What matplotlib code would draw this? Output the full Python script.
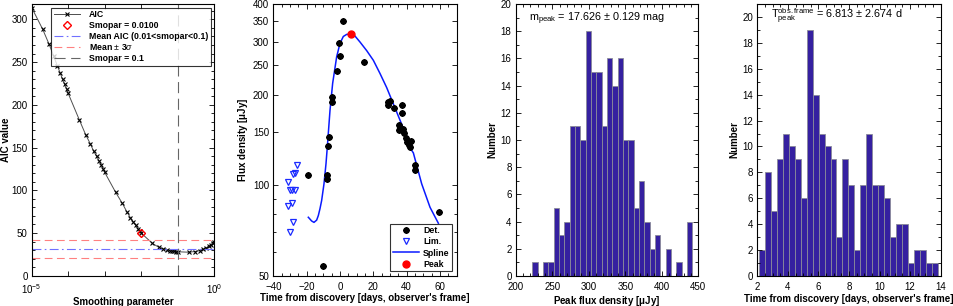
import numpy as np
import matplotlib
matplotlib.use("Agg")
import matplotlib.pyplot as plt
from matplotlib.ticker import MultipleLocator, FixedLocator, NullLocator, NullFormatter

plt.rcParams['font.family'] = ['Liberation Sans', 'DejaVu Sans']
plt.rcParams['mathtext.fontset'] = 'custom'
plt.rcParams['mathtext.rm'] = 'Liberation Sans'
plt.rcParams['mathtext.it'] = 'Liberation Sans:italic'
plt.rcParams['mathtext.bf'] = 'Liberation Sans:bold'
plt.rcParams['font.size'] = 7

# ---------------- Panel 1: AIC vs smoothing parameter ----------------
smopar = [1e-5, 2e-5, 3e-5, 4e-5, 5e-5, 6e-5, 7e-5, 8e-5, 9e-5,
          1e-4, 2e-4, 3e-4, 4e-4, 5e-4, 6e-4, 7e-4, 8e-4, 9e-4,
          1e-3, 2e-3, 3e-3, 4e-3, 5e-3, 6e-3, 7e-3, 8e-3, 9e-3,
          1e-2, 2e-2, 3e-2, 4e-2, 5e-2, 6e-2, 7e-2, 8e-2, 9e-2,
          1e-1, 0.2, 0.3, 0.4, 0.5, 0.6, 0.7, 0.8, 0.9, 1.0]
aic = [313.8, 288.4, 270.8, 257.0, 246.0, 237.5, 229.7, 223.8, 218.8,
       213.3, 182.7, 165.1, 154.6, 145.5, 139.7, 134.6, 129.9, 124.9,
       120.9, 97.4, 85.0, 75.1, 68.1, 63.4, 59.2, 55.2, 52.1,
       49.8, 38.0, 33.3, 31.3, 30.2, 29.4, 29.0, 28.6, 28.3,
       28.0, 27.5, 28.3, 29.4, 31.0, 32.5, 34.5, 36.5, 38.3, 40.0]
best_smopar = 0.01
best_aic = 49.8
mean_aic = 31.0
mean_plus = 41.9
mean_minus = 20.4
ref_smopar = 0.1

# ---------------- Panel 2: light curve ----------------
det_t = [2.0, -0.4, 0.0, -2.0, -5.0, -4.8, -6.8, -7.0, 14.2, 29.0, 30.0, 29.0,
         32.4, 37.2, 37.2, 35.4, 35.4, 38.0, 38.6, 39.4, 40.4, 41.4, 42.8, 42.0,
         -19.0, -7.6, -7.6, -10.0, 45.0, 45.0, 59.2]
det_f = [350, 296, 268, 239, 196, 189, 144, 135, 256, 189, 191, 185,
         180, 185, 174, 158, 153, 154, 149, 143, 139, 136, 140, 134,
         107.7, 107.7, 105.2, 53.7, 117, 112, 81.3]
lim_t = [-26, -28, -27, -31, -30, -29, -27, -29, -31, -28, -30]
lim_f = [117, 108.5, 110, 102.4, 96.5, 96.5, 96, 87.3, 85, 75.2, 70]
spl_t = [-19.0, -17.0, -15.6, -14.0, -13.0, -12.0, -11.0, -9.6, -8.4, -7.6, -6.0,
         -4.4, -2.0, 0.0, 2.0, 4.0, 6.8, 9.0, 12.0, 16.0, 20.0, 24.0, 28.0,
         34.0, 40.0, 42.4, 44.0, 49.0, 54.0, 59.0]
spl_f = [78.2, 76.0, 75.2, 76.5, 79.2, 83.5, 88.9, 101, 117.7, 134, 177,
         218, 267, 296, 312, 317, 317.6, 313, 299, 280, 260, 235, 211,
         175, 145, 132, 128, 101, 84.4, 74.7]
peak_t = 6.8
peak_f = 317.6

# ---------------- Panel 3: peak flux histogram ----------------
flux_edge_lo = 222.8
flux_edge_hi = 442.0
flux_counts = [1, 0, 1, 1, 5, 3, 4, 11, 11, 10, 18, 15, 15, 11, 16, 14, 16, 10,
               10, 5, 7, 4, 2, 3, 0, 2, 0, 1, 0, 4]

# ---------------- Panel 4: peak time histogram ----------------
time_edge_lo = 2.11
time_edge_hi = 13.81
time_counts = [2, 8, 5, 9, 11, 10, 9, 6, 19, 14, 11, 10, 9, 3, 9, 7, 2, 7, 11, 7,
               7, 6, 3, 4, 4, 1, 2, 2, 1, 1]

W, H = 954, 306
fig = plt.figure(figsize=(W / 100, H / 100), dpi=100)

def axes_px(x0, x1, y0, y1):
    return fig.add_axes([x0 / W, 1 - y1 / H, (x1 - x0) / W, (y1 - y0) / H])

def style(ax):
    ax.tick_params(which='both', direction='in', top=True, right=True,
                   labelsize=7, width=0.6)
    ax.tick_params(axis='x', pad=4.5)
    ax.tick_params(axis='y', pad=3)
    ax.tick_params(which='major', length=3.5)
    ax.tick_params(which='minor', length=2)
    for s in ax.spines.values():
        s.set_linewidth(0.8)

lab_kw = dict(fontsize=7, fontweight='bold')

# Panel 1
ax1 = axes_px(31.7, 214.3, 4, 275.7)
ax1.set_xscale('log')
ax1.plot(smopar, aic, color='0.3', lw=0.7, marker='x', ms=3, mec='k', mew=0.8,
         label='AIC')
ax1.plot([best_smopar], [best_aic], ls='none', marker='D', ms=4, mfc='none',
         mec='red', mew=1.0, label='Smopar = 0.0100')
ax1.axhline(mean_aic, color='#7070ff', lw=0.8, ls=(0, (8, 3, 1.5, 3)),
            label='Mean AIC (0.01<smopar<0.1)')
ax1.axhline(mean_plus, color='#ff8080', lw=0.8, ls=(0, (7, 4)),
            label=r'Mean $\pm$ 3$\sigma$')
ax1.axhline(mean_minus, color='#ff8080', lw=0.8, ls=(0, (7, 4)))
ax1.axvline(ref_smopar, color='0.4', lw=0.8, ls=(0, (10, 5)),
            label='Smopar = 0.1')
ax1.set_xlim(1e-5, 1)
ax1.set_ylim(0, 318)
ax1.xaxis.set_major_locator(FixedLocator([1e-5, 1e-4, 1e-3, 1e-2, 1e-1, 1]))
ax1.set_xticklabels([r'$10^{-5}$', '', '', '', '', r'$10^{0}$'])
ax1.xaxis.set_minor_locator(NullLocator())
ax1.yaxis.set_major_locator(MultipleLocator(50))
ax1.yaxis.set_minor_locator(MultipleLocator(10))
style(ax1)
ax1.set_xlabel('Smoothing parameter', labelpad=1, **lab_kw)
ax1.set_ylabel('AIC value', **lab_kw)
ax1.yaxis.set_label_coords(-0.112, 0.5)
leg1 = ax1.legend(loc='upper right', frameon=True, fancybox=False,
                  edgecolor='k', handlelength=3.0, borderpad=0.3, labelspacing=0.2,
                  handletextpad=1.0, borderaxespad=0.4,
                  prop={'weight': 'bold', 'size': 6.3})
leg1.get_frame().set_linewidth(0.8)

# Panel 2
ax2 = axes_px(273.3, 456.7, 4, 275.7)
ax2.set_yscale('log')
ax2.plot(spl_t, spl_f, color='#0a1aff', lw=1.1, label='Spline', zorder=2)
ax2.plot(det_t, det_f, ls='none', marker=(8, 2, 0), ms=4.5, color='k', mew=1.4,
         label='Det.', zorder=3)
ax2.plot(lim_t, lim_f, ls='none', marker='v', ms=5, mfc='none', mec='#1a2aff',
         mew=0.9, label='Lim.', zorder=3)
ax2.plot([peak_t], [peak_f], ls='none', marker='o', ms=5, color='red',
         label='Peak', zorder=4)
ax2.set_xlim(-40, 70)
ax2.set_ylim(50, 400)
ax2.yaxis.set_major_locator(FixedLocator([50, 100, 150, 200, 250, 300, 350, 400]))
ax2.set_yticklabels(['50', '100', '150', '200', '250', '300', '350', '400'])
ax2.yaxis.set_minor_locator(FixedLocator([60, 70, 80, 90]))
ax2.yaxis.set_minor_formatter(NullFormatter())
ax2.xaxis.set_major_locator(MultipleLocator(20))
ax2.xaxis.set_minor_locator(MultipleLocator(5))
style(ax2)
ax2.set_xlabel("Time from discovery [days, observer's frame]", labelpad=1, **lab_kw)
ax2.set_ylabel(r'Flux density [$\mathbf{\mu}$Jy]', **lab_kw)
ax2.yaxis.set_label_coords(-0.125, 0.5)
h, l = ax2.get_legend_handles_labels()
order = [l.index(n) for n in ['Det.', 'Lim.', 'Spline', 'Peak']]
leg2 = ax2.legend([h[i] for i in order], [l[i] for i in order], loc='lower right',
                  fancybox=False, edgecolor='k', handlelength=3.0, borderpad=0.3,
                  labelspacing=0.25, handletextpad=0.5, borderaxespad=0.5,
                  prop={'weight': 'bold', 'size': 6.3})
leg2.get_frame().set_linewidth(0.8)

bar_face = '#3520a0'
bar_edge = '#8a8a9a'

# Panel 3
ax3 = axes_px(515.7, 698.3, 4, 276)
edges3 = np.linspace(flux_edge_lo, flux_edge_hi, len(flux_counts) + 1)
ax3.bar(edges3[:-1], flux_counts, width=np.diff(edges3), align='edge',
        color=bar_face, edgecolor=bar_edge, linewidth=0.6)
ax3.set_xlim(200, 450)
ax3.set_ylim(0, 20)
ax3.xaxis.set_major_locator(MultipleLocator(50))
ax3.xaxis.set_minor_locator(MultipleLocator(10))
ax3.yaxis.set_major_locator(MultipleLocator(2))
ax3.yaxis.set_minor_locator(MultipleLocator(1))
style(ax3)
ax3.set_xlabel(r'Peak flux density [$\mathbf{\mu}$Jy]', labelpad=1, **lab_kw)
ax3.set_ylabel('Number', **lab_kw)
ax3.yaxis.set_label_coords(-0.1, 0.5)
ax3.text(0.445, 0.975, r'm$_{\rm peak}$ = 17.626 $\pm$ 0.129 mag', transform=ax3.transAxes,
         ha='center', va='top', fontsize=7.8)

# Panel 4
ax4 = axes_px(757.3, 940.7, 4, 276)
edges4 = np.linspace(time_edge_lo, time_edge_hi, len(time_counts) + 1)
ax4.bar(edges4[:-1], time_counts, width=np.diff(edges4), align='edge',
        color=bar_face, edgecolor=bar_edge, linewidth=0.6)
ax4.set_xlim(2, 14)
ax4.set_ylim(0, 21)
ax4.xaxis.set_major_locator(MultipleLocator(2))
ax4.xaxis.set_minor_locator(MultipleLocator(0.5))
ax4.yaxis.set_major_locator(MultipleLocator(2))
ax4.yaxis.set_minor_locator(MultipleLocator(1))
style(ax4)
ax4.set_xlabel("Time from discovery [days, observer's frame]", labelpad=1, **lab_kw)
ax4.set_ylabel('Number', **lab_kw)
ax4.yaxis.set_label_coords(-0.1, 0.5)
ax4.text(0.435, 0.99, r'T$^{\rm obs.frame}_{\rm peak}$ = 6.813 $\pm$ 2.674 d',
         transform=ax4.transAxes, ha='center', va='top', fontsize=7.8)

fig.savefig('out.png', dpi=100)
